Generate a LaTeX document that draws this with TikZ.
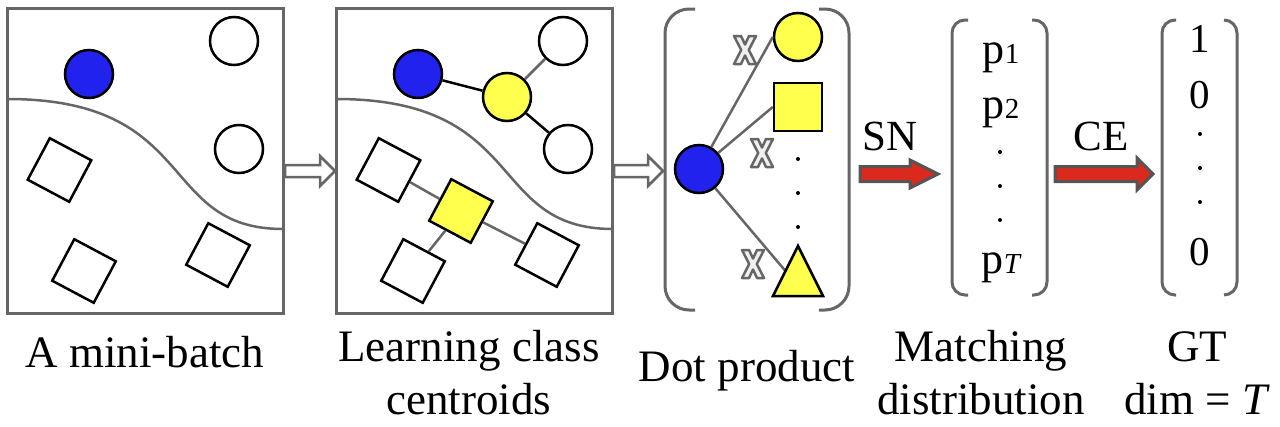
\documentclass[tikz,border=0pt]{standalone}
\usepackage{fontspec}
\setmainfont{Liberation Serif}
\definecolor{myblue}{RGB}{34,34,238}
\definecolor{myyellow}{RGB}{255,255,77}
\definecolor{mygray}{RGB}{102,102,102}
\definecolor{myred}{RGB}{220,41,30}
\definecolor{arrowgray}{RGB}{85,85,85}
\definecolor{xwhite}{RGB}{240,240,240}
\newcommand\bigtxt{\fontsize{45}{54}\selectfont}
\newcommand\midtxt{\fontsize{43}{50}\selectfont}
\newcommand\vectxt{\fontsize{41}{48}\selectfont}
\newcommand\subtxt{\fontsize{29}{32}\selectfont}
\begin{document}
\begin{tikzpicture}[x=1pt,y=-1pt,
  panel/.style={draw=mygray, line width=3pt, minimum width=276pt, minimum height=305pt, inner sep=0pt},
  circ/.style={circle, draw=black, line width=2.5pt, minimum size=48pt, inner sep=0pt, fill=white},
  bluec/.style={circ, fill=myblue},
  yelc/.style={circ, fill=myyellow},
  sq/.style={rectangle, draw=black, line width=2.5pt, minimum size=47pt, inner sep=0pt, fill=white, rotate=-28},
  ysq/.style={sq, fill=myyellow},
  curveline/.style={draw=mygray, line width=2.5pt},
  blackline/.style={draw=black, line width=2.5pt},
  grayline/.style={draw=mygray, line width=2.5pt},
  bracketline/.style={draw=mygray, line width=3pt},
  hollowarrow/.style={draw=mygray, fill=white, line width=2.5pt, line join=miter},
  redarrow/.style={draw=arrowgray, fill=myred, line width=3pt, line join=miter},
  xmark/.style={draw=mygray, fill=xwhite, line width=2.5pt, line join=round},
  lbl/.style={inner sep=0pt, anchor=base, font=\bigtxt},
  vec/.style={inner sep=0pt, anchor=base, font=\vectxt},
  dotn/.style={circle, fill=black, inner sep=0pt, minimum size=4pt},
]
\useasboundingbox (0,0) rectangle (1280,426);

% ---------- Panel 1 ----------
\node[panel] (P1) at (145,160.5) {};
\draw[curveline] (7,99) .. controls (200,99) and (157,229) .. (283,229);
\node[bluec] (b1) at (89,74) {};
\node[circ] (w1a) at (234,41) {};
\node[circ] (w1b) at (239,149) {};
\node[sq] (s1a) at (59.5,170) {};
\node[sq] (s1b) at (84,271) {};
\node[sq] (s1c) at (218,255) {};

% ---------- Panel 2 ----------
\node[panel] (P2) at (474.5,160.5) {};
\draw[curveline] (336,99) .. controls (529,99) and (486,229) .. (613,229);
\node[bluec] (b2) at (418,74) {};
\node[yelc] (y2) at (507,97) {};
\node[circ] (w2a) at (563,41) {};
\node[circ] (w2b) at (568,149) {};
\node[sq] (s2a) at (388.5,170) {};
\node[sq] (s2b) at (413,271) {};
\node[sq] (s2c) at (547,255) {};
\node[ysq] (ys2) at (461,211) {};
\draw[blackline] (b2) -- (y2);
\draw[grayline] (y2) -- (w2a);
\draw[blackline] (y2) -- (w2b);
\draw[grayline] (ys2) -- (s2a);
\draw[grayline] (ys2) -- (s2b);
\draw[grayline] (ys2) -- (s2c);

% ---------- hollow arrows ----------
\coordinate (h1) at (285,171);
\draw[hollowarrow] (h1) ++(0,-6) -- ++(35,0) -- ++(0,-9) -- ++(15,15) -- ++(-15,15) -- ++(0,-9) -- ++(-35,0) -- cycle;
\coordinate (h2) at (614,171);
\draw[hollowarrow] (h2) ++(0,-6) -- ++(34,0) -- ++(0,-9) -- ++(15,15) -- ++(-15,15) -- ++(0,-9) -- ++(-34,0) -- cycle;

% ---------- Dot product ----------
\draw[bracketline, rounded corners=24pt] (695,9) -- (665,9) -- (665,310) -- (695,310);
\draw[bracketline, rounded corners=24pt] (819,9) -- (849,9) -- (849,310) -- (819,310);
\node[bluec] (b3) at (699,169) {};
\node[yelc] (y3) at (798,37) {};
\node[rectangle, draw=black, line width=2.5pt, minimum size=48pt, inner sep=0pt, fill=myyellow] (ys3) at (798,107) {};
\node[dotn] (d3a) at (798,159) {};
\node[dotn] (d3b) at (798,193) {};
\node[dotn] (d3c) at (798,227) {};
\coordinate (tA) at (798,246);
\coordinate (tB) at (823,296);
\coordinate (tC) at (773,296);
\coordinate (tL) at (785.5,271);
\draw[grayline] (b3) -- (y3.west);
\draw[grayline] (b3) -- (ys3.west);
\draw[grayline] (b3) -- (tL);
\draw[draw=black, line width=2.5pt, fill=myyellow, line join=miter] (tA) -- (tB) -- (tC) -- cycle;
\foreach \xx/\yy in {745/50,762/153,753/264}{
  \begin{scope}[shift={(\xx,\yy)}]
    \draw[xmark] (-11,-14) -- (-4,-14) -- (0,-5.5) -- (4,-14) -- (11,-14) -- (3.8,0)
      -- (11,14) -- (4,14) -- (0,5.5) -- (-4,14) -- (-11,14) -- (-3.8,0) -- cycle;
  \end{scope}
}

% ---------- SN / CE arrows ----------
\coordinate (sn) at (860,174);
\draw[redarrow] (sn) ++(0,-7.5) -- ++(50,0) -- ++(0,-6.5) -- ++(28,14) -- ++(-28,14) -- ++(0,-6.5) -- ++(-50,0) -- cycle;
\node[inner sep=0pt, anchor=base, font=\midtxt] (snl) at (890,150) {SN};
\coordinate (ce) at (1055,174);
\draw[redarrow] (ce) ++(0,-7.5) -- ++(82,0) -- ++(0,-8.5) -- ++(16,16) -- ++(-16,16) -- ++(0,-8.5) -- ++(-82,0) -- cycle;
\node[inner sep=0pt, anchor=base, font=\midtxt] (cel) at (1101,150) {CE};

% ---------- matching distribution vector ----------
\draw[bracketline, rounded corners=13pt] (968,20) -- (952,20) -- (952,295) -- (968,295);
\draw[bracketline, rounded corners=13pt] (1032,20) -- (1047,20) -- (1047,295) -- (1032,295);
\node[vec, font=\fontsize{44}{50}\selectfont] (p1) at (1001,63) {p{\subtxt 1}};
\node[vec, font=\fontsize{44}{50}\selectfont] (p2) at (1001,118) {p{\subtxt 2}};
\node[dotn] (pd1) at (1000,152) {};
\node[dotn] (pd2) at (1000,186) {};
\node[dotn] (pd3) at (1000,220) {};
\node[vec, font=\fontsize{44}{50}\selectfont] (pT) at (1001,273) {p{\subtxt\itshape T}};

% ---------- GT vector ----------
\draw[bracketline, rounded corners=13pt] (1176,20) -- (1162,20) -- (1162,295) -- (1176,295);
\draw[bracketline, rounded corners=13pt] (1224,20) -- (1237,20) -- (1237,295) -- (1224,295);
\node[vec] (g1) at (1200,52) {1};
\node[vec] (g2) at (1200,108) {0};
\node[dotn] (gd1) at (1200,134) {};
\node[dotn] (gd2) at (1200,168) {};
\node[dotn] (gd3) at (1200,202) {};
\node[vec] (g3) at (1200,265) {0};

% ---------- labels ----------
\node[lbl] (l1) at (145,367) {A mini-batch};
\node[lbl] (l2a) at (469,361) {Learning class};
\node[lbl] (l2b) at (469,414) {centroids};
\node[lbl] (l3) at (747,381) {Dot product};
\node[lbl] (l4a) at (981,361) {Matching};
\node[lbl] (l4b) at (981,414) {distribution};
\node[lbl] (l5a) at (1197,361) {GT};
\node[lbl] (l5b) at (1197,414) {dim = \textit{T}};
\end{tikzpicture}
\end{document}
